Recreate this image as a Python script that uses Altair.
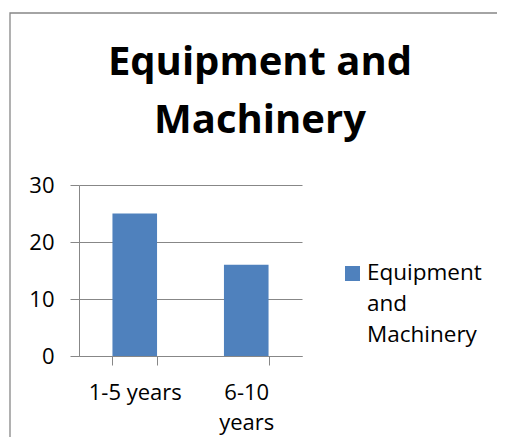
import altair as alt
import pandas as pd

# ---- data ----
categories = ["1-5 years", "6-10 years"]
values = [25, 16]
series_name = "Equipment and Machinery"
title_lines = ["Equipment and", "Machinery"]
legend_lines = ["Equipment", "and", "Machinery"]
y_ticks = [0, 10, 20, 30]

FONT = "Open Sans"
GRAY = "#878787"
BLUE = "#4F81BD"

df = pd.DataFrame({"period": categories, "count": values, "series": [series_name] * len(categories)})
one = pd.DataFrame({"series": [series_name]})

color = alt.Color("series:N", scale=alt.Scale(domain=[series_name], range=[BLUE]), legend=None)

border = alt.Chart(one).mark_rect(fill="white", fillOpacity=0, stroke=GRAY, strokeWidth=1.3).encode(
    x=alt.value(-69), x2=alt.value(700), y=alt.value(-172), y2=alt.value(600)
)

bars = alt.Chart(df).mark_bar().encode(
    x=alt.X(
        "period:N", sort=categories, title=None,
        scale=alt.Scale(paddingInner=0.6, paddingOuter=0.3),
        axis=alt.Axis(
            labelAngle=0, tickBand="extent", tickSize=9, labelPadding=17,
            labelLineHeight=30, labelBaseline="top", grid=False,
            labelExpr="length(datum.label) > 9 ? split(datum.label, ' ') : datum.label",
        ),
    ),
    y=alt.Y(
        "count:Q", title=None, scale=alt.Scale(domain=[0, 30]),
        axis=alt.Axis(values=y_ticks, tickSize=9, labelPadding=16, grid=True),
    ),
    color=color,
)

title = alt.Chart(one).mark_text(
    font=FONT, fontSize=40, fontWeight="bold", align="center", baseline="alphabetic",
    lineHeight=58, color="black",
).encode(x=alt.value(181), y=alt.value(-110), text=alt.value(title_lines))

legend_sq = alt.Chart(one).mark_square(size=225, opacity=1).encode(
    x=alt.value(273.5), y=alt.value(88.5), color=color
)
legend_txt = alt.Chart(one).mark_text(
    font=FONT, fontSize=22.5, align="left", baseline="alphabetic", lineHeight=31, color="black"
).encode(x=alt.value(288), y=alt.value(95), text=alt.value(legend_lines))

chart = alt.layer(border, bars, title, legend_sq, legend_txt).properties(
    width=223, height=171,
    autosize=alt.AutoSizeParams(type="none"),
    padding={"left": 71, "top": 177, "right": 195, "bottom": 81},
).configure_axis(
    labelFont=FONT, labelFontSize=22, labelColor="black",
    domainColor=GRAY, tickColor=GRAY, gridColor=GRAY,
).configure_view(stroke="transparent")

chart.save("out.html", embed_options={"renderer": "svg", "actions": False})
